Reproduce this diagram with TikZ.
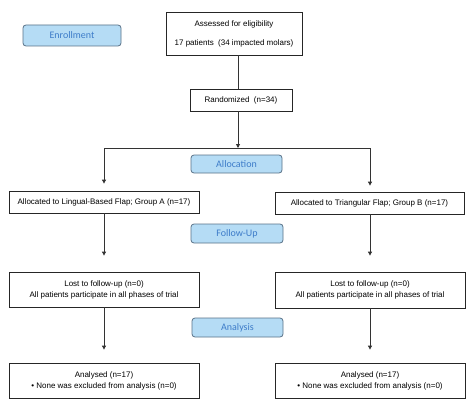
\documentclass[tikz,border=0pt]{standalone}
\usepackage{fontspec}
\setmainfont{Liberation Sans}
\newfontfamily\labelfont{Carlito}
\usetikzlibrary{arrows.meta}
\definecolor{lblfill}{HTML}{B5DCF5}
\definecolor{lbldraw}{HTML}{5A7288}
\definecolor{lbltext}{HTML}{3D7CC9}
\definecolor{linecol}{HTML}{333333}
\begin{document}
\begin{tikzpicture}[x=1pt,y=1pt,
  box/.style={draw=black!85,line width=0.8pt,fill=white,inner sep=0pt,align=center,
    font=\fontsize{8}{11}\selectfont},
  stage/.style={draw=lbldraw,line width=0.8pt,fill=lblfill,rounded corners=3pt,
    inner sep=0pt,text=lbltext,font=\labelfont\fontsize{10}{11}\selectfont},
  conn/.style={draw=linecol,line width=0.9pt},
  arr/.style={conn,-{Triangle[length=4pt,width=4pt]}}]
\useasboundingbox[fill=white] (0,0) rectangle (474,-420);
% stage labels
\node[stage,minimum width=98pt,minimum height=21pt] (enroll) at (72,-35.5) {Enrollment};
\node[stage,minimum width=91pt,minimum height=18pt] (alloc) at (236.5,-164) {Allocation};
\node[stage,minimum width=92pt,minimum height=19pt] (follow) at (237,-233.5) {Follow-Up};
\node[stage,minimum width=91pt,minimum height=19pt] (analysis) at (237.5,-327.5) {Analysis};
% boxes
\node[box,minimum width=136pt,minimum height=43pt,font=\fontsize{8}{19}\selectfont] (assess) at (234,-33.5)
  {Assessed for eligibility\\17 patients\ \ (34 impacted molars)};
\node[box,minimum width=102pt,minimum height=22pt] (rand) at (241,-100) {Randomized\ \ (n=34)};
\node[box,minimum width=190pt,minimum height=22pt] (lingA) at (104,-202)
  {Allocated to Lingual-Based Flap; Group A (n=17)};
\node[box,minimum width=189pt,minimum height=22pt] (triB) at (369.5,-203)
  {Allocated to Triangular Flap; Group B (n=17)};
\node[box,minimum width=190pt,minimum height=35pt] (lostA) at (104,-289.5)
  {Lost to follow-up (n=0)\\All patients participate in all phases of trial};
\node[box,minimum width=190pt,minimum height=36pt] (lostB) at (370,-290)
  {Lost to follow-up (n=0)\\All patients participate in all phases of trial};
\node[box,minimum width=190pt,minimum height=35pt] (anA) at (104,-380.5)
  {Analysed (n=17)\\\textbullet\ None was excluded from analysis (n=0)};
\node[box,minimum width=190pt,minimum height=35pt] (anB) at (370,-380.5)
  {Analysed (n=17)\\\textbullet\ None was excluded from analysis (n=0)};
% junctions
\coordinate (j) at (238,-148);
\coordinate (jl) at (104,-148);
\coordinate (jr) at (370,-148);
% connectors
\draw[conn] (assess.south -| j) -- (rand.north -| j);
\draw[arr] (rand.south -| j) -- (j);
\draw[conn] (jl) -- (jr);
\draw[arr,shorten >=7pt] (jl) -- (lingA.north -| jl);
\draw[arr,shorten >=6pt] (jr) -- (triB.north -| jr);
\draw[arr,shorten >=16pt] (lingA.south -| jl) -- (lostA.north -| jl);
\draw[arr,shorten >=16pt] (triB.south -| jr) -- (lostB.north -| jr);
\draw[arr,shorten >=13pt] (lostA.south -| jl) -- (anA.north -| jl);
\draw[arr,shorten >=13pt] (lostB.south -| jr) -- (anB.north -| jr);
\end{tikzpicture}
\end{document}
